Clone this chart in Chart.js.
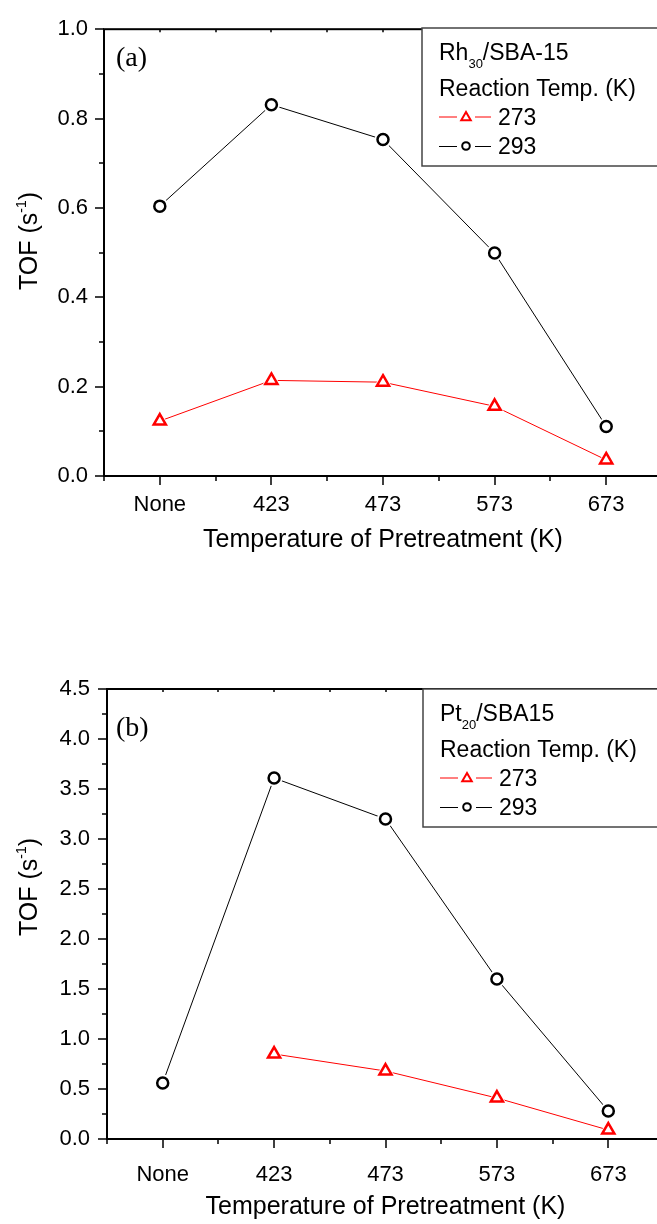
<!DOCTYPE html>
<html>
<head>
<meta charset="utf-8">
<script src="https://cdn.jsdelivr.net/npm/chart.js@4.4.0/dist/chart.umd.min.js"></script>
<style>
  html, body { margin: 0; padding: 0; background: #fff; overflow: hidden; }
  #wrap { position: relative; width: 657px; height: 1224px; overflow: hidden; }
  canvas { position: absolute; left: 0; }
  #grafA { top: 0; }
  #grafB { top: 612px; }
</style>
</head>
<body>
<div id="wrap">
  <canvas id="grafA" width="700" height="612"></canvas>
  <canvas id="grafB" width="700" height="612"></canvas>
</div>
<script>
const categorias = ['None', '423', '473', '573', '673'];
const ticksX = [0, 1, 2, 3, 4];
const minorX = [-0.5, 0.5, 1.5, 2.5, 3.5, 4.5];

// (a) Rh30/SBA-15
const rh273 = [0.123, 0.214, 0.210, 0.156, 0.036];
const rh293 = [0.604, 0.831, 0.753, 0.499, 0.111];
const rhTicksY = [0, 0.2, 0.4, 0.6, 0.8, 1.0];
const rhMinorY = [0.1, 0.3, 0.5, 0.7, 0.9];

// (b) Pt20/SBA15
const pt273 = [null, 0.85, 0.68, 0.41, 0.09];
const pt293 = [0.56, 3.61, 3.20, 1.60, 0.28];
const ptTicksY = [0, 0.5, 1.0, 1.5, 2.0, 2.5, 3.0, 3.5, 4.0, 4.5];
const ptMinorY = [0.25, 0.75, 1.25, 1.75, 2.25, 2.75, 3.25, 3.75, 4.25];

const serieNomes = ['273', '293'];
const VERMELHO = '#ff0000';
const PRETO = '#000000';
const SANS = "'Liberation Sans', Arial, sans-serif";
const SERIF = "'Liberation Serif', 'Times New Roman', serif";

const paineis = {
  grafA: {
    rotulo: '(a)', rotuloX: 116, rotuloY: 66,
    tituloYX: 37, tituloYY: 241,
    leg: { x: 422, y: 28, base: 'Rh', sub: '30', resto: '/SBA-15' },
    majorY: rhTicksY, minorY: rhMinorY
  },
  grafB: {
    rotulo: '(b)', rotuloX: 116, rotuloY: 124,
    tituloYX: 37, tituloYY: 275,
    leg: { x: 423, y: 77, base: 'Pt', sub: '20', resto: '/SBA15' },
    majorY: ptTicksY, minorY: ptMinorY
  }
};

function pontos(arr) {
  return arr.map((v, i) => ({ x: i, y: v }));
}

function montarDatasets(s273, s293) {
  return [
    // marcadores
    { data: pontos(s273), showLine: false, pointStyle: 'triangle', pointRadius: 7,
      pointBorderWidth: 2.5, pointBorderColor: VERMELHO, pointBackgroundColor: '#fff', order: 0 },
    { data: pontos(s293), showLine: false, pointStyle: 'circle', pointRadius: 5.5,
      pointBorderWidth: 2.5, pointBorderColor: PRETO, pointBackgroundColor: '#fff', order: 0 },
    // halo branco para o vão entre linha e marcador
    { data: pontos(s273), showLine: false, pointStyle: 'triangle', pointRadius: 11,
      pointBorderWidth: 0, pointBackgroundColor: '#fff', order: 1 },
    { data: pontos(s293), showLine: false, pointStyle: 'circle', pointRadius: 8.5,
      pointBorderWidth: 0, pointBackgroundColor: '#fff', order: 1 },
    // linhas
    { data: pontos(s273), showLine: true, pointRadius: 0, borderColor: VERMELHO, borderWidth: 1, order: 2 },
    { data: pontos(s293), showLine: true, pointRadius: 0, borderColor: PRETO, borderWidth: 1, order: 2 }
  ];
}

function desenharTriangulo(ctx, cx, cy, r) {
  ctx.beginPath();
  ctx.moveTo(cx, cy - r);
  ctx.lineTo(cx + r * Math.sin(2 * Math.PI / 3), cy + r / 2);
  ctx.lineTo(cx - r * Math.sin(2 * Math.PI / 3), cy + r / 2);
  ctx.closePath();
}

const eixosPlugin = {
  id: 'eixos',
  afterDraw(chart) {
    const p = paineis[chart.canvas.id];
    const { ctx, chartArea: a, scales: { x, y } } = chart;
    ctx.save();

    // moldura
    ctx.strokeStyle = PRETO;
    ctx.lineWidth = 2;
    ctx.strokeRect(a.left, a.top, a.right - a.left, a.bottom - a.top);

    // marcas dos eixos
    ctx.lineWidth = 1.5;
    ctx.beginPath();
    ticksX.forEach(v => {
      const px = Math.round(x.getPixelForValue(v));
      ctx.moveTo(px, a.bottom); ctx.lineTo(px, a.bottom + 9);
      ctx.moveTo(px, a.top); ctx.lineTo(px, a.top + 3);
    });
    minorX.forEach(v => {
      const px = Math.round(x.getPixelForValue(v));
      ctx.moveTo(px, a.bottom); ctx.lineTo(px, a.bottom + 5);
      ctx.moveTo(px, a.top); ctx.lineTo(px, a.top + 3);
    });
    p.majorY.forEach(v => {
      const py = Math.round(y.getPixelForValue(v));
      ctx.moveTo(a.left, py); ctx.lineTo(a.left - 9, py);
    });
    p.minorY.forEach(v => {
      const py = Math.round(y.getPixelForValue(v));
      ctx.moveTo(a.left, py); ctx.lineTo(a.left - 5, py);
    });
    ctx.stroke();

    // rótulo do painel
    ctx.fillStyle = PRETO;
    ctx.font = '28px ' + SERIF;
    ctx.textBaseline = 'alphabetic';
    ctx.textAlign = 'left';
    ctx.fillText(p.rotulo, p.rotuloX, p.rotuloY);

    // título do eixo y com expoente
    ctx.save();
    ctx.translate(p.tituloYX, p.tituloYY);
    ctx.rotate(-Math.PI / 2);
    ctx.font = '25px ' + SANS;
    const w1 = ctx.measureText('TOF (s').width;
    const w3 = ctx.measureText(')').width;
    ctx.font = '14px ' + SANS;
    const w2 = ctx.measureText('-1').width;
    let cx = -(w1 + w2 + w3) / 2;
    ctx.font = '25px ' + SANS;
    ctx.fillText('TOF (s', cx, 0);
    ctx.font = '14px ' + SANS;
    ctx.fillText('-1', cx + w1, -11);
    ctx.font = '25px ' + SANS;
    ctx.fillText(')', cx + w1 + w2, 0);
    ctx.restore();

    // legenda
    const L = p.leg;
    ctx.fillStyle = '#fff';
    ctx.fillRect(L.x, L.y, chart.width, 138);
    ctx.strokeStyle = '#444';
    ctx.lineWidth = 1.5;
    ctx.strokeRect(L.x, L.y, chart.width, 138);

    const tx = L.x + 17;
    ctx.fillStyle = PRETO;
    ctx.font = '23px ' + SANS;
    ctx.fillText(L.base, tx, L.y + 31.5);
    const wb = ctx.measureText(L.base).width;
    ctx.font = '13px ' + SANS;
    ctx.fillText(L.sub, tx + wb, L.y + 39.5);
    const ws = ctx.measureText(L.sub).width;
    ctx.font = '23px ' + SANS;
    ctx.fillText(L.resto, tx + wb + ws, L.y + 31.5);
    ctx.fillText('Reaction Temp. (K)', tx, L.y + 68);

    const linhas = [
      { cor: VERMELHO, base: L.y + 96.5, forma: 'tri' },
      { cor: PRETO, base: L.y + 126, forma: 'circ' }
    ];
    linhas.forEach((l, i) => {
      const my = l.base - 8;
      const mx = L.x + 44;
      ctx.strokeStyle = l.cor;
      ctx.lineWidth = 1;
      ctx.beginPath();
      ctx.moveTo(tx, my + 0.5); ctx.lineTo(mx - 9, my + 0.5);
      ctx.moveTo(mx + 9, my + 0.5); ctx.lineTo(L.x + 69, my + 0.5);
      ctx.stroke();
      ctx.lineWidth = 2;
      if (l.forma === 'tri') {
        desenharTriangulo(ctx, mx, my + 1, 5.5);
      } else {
        ctx.beginPath();
        ctx.arc(mx, my, 3.8, 0, Math.PI * 2);
      }
      ctx.stroke();
      ctx.fillStyle = PRETO;
      ctx.font = '23px ' + SANS;
      ctx.fillText(serieNomes[i], L.x + 76, l.base);
    });

    ctx.restore();
  }
};

function criarGrafico(id, s273, s293, cfg) {
  const p = paineis[id];
  new Chart(document.getElementById(id), {
    type: 'scatter',
    data: { datasets: montarDatasets(s273, s293) },
    options: {
      responsive: false,
      animation: false,
      events: [],
      layout: { padding: { top: cfg.padTop, right: cfg.padRight, left: 0, bottom: 0 } },
      plugins: { legend: { display: false }, tooltip: { enabled: false } },
      scales: {
        x: {
          type: 'linear', position: 'bottom', min: -0.5, max: 4.5,
          afterBuildTicks: s => { s.ticks = ticksX.map(v => ({ value: v })); },
          afterFit: s => { s.height = cfg.altX; },
          grid: { display: false, drawTicks: false },
          border: { display: false },
          ticks: {
            padding: cfg.padTickX, autoSkip: false, maxRotation: 0, color: PRETO,
            font: { family: SANS, size: 22 },
            callback: v => categorias[v]
          },
          title: {
            display: true, text: 'Temperature of Pretreatment (K)', color: PRETO,
            font: { family: SANS, size: 25 },
            padding: { top: 0, bottom: cfg.padTitX }
          }
        },
        y: {
          type: 'linear', position: 'left', min: 0, max: cfg.maxY,
          afterBuildTicks: s => { s.ticks = p.majorY.map(v => ({ value: v })); },
          afterFit: s => { s.width = cfg.largY; },
          grid: { display: false, drawTicks: false },
          border: { display: false },
          ticks: {
            padding: cfg.padTickY, autoSkip: false, color: PRETO,
            font: { family: SANS, size: 22 },
            callback: v => v.toFixed(1)
          }
        }
      }
    },
    plugins: [eixosPlugin]
  });
}

criarGrafico('grafA', rh273, rh293, {
  maxY: 1.0, padTop: 25, padRight: 38, altX: 136, largY: 104,
  padTickX: 16, padTickY: 16, padTitX: 57
});
criarGrafico('grafB', pt273, pt293, {
  maxY: 4.5, padTop: 77, padRight: 36, altX: 85, largY: 107,
  padTickX: 23, padTickY: 17, padTitX: 2
});
</script>
</body>
</html>
